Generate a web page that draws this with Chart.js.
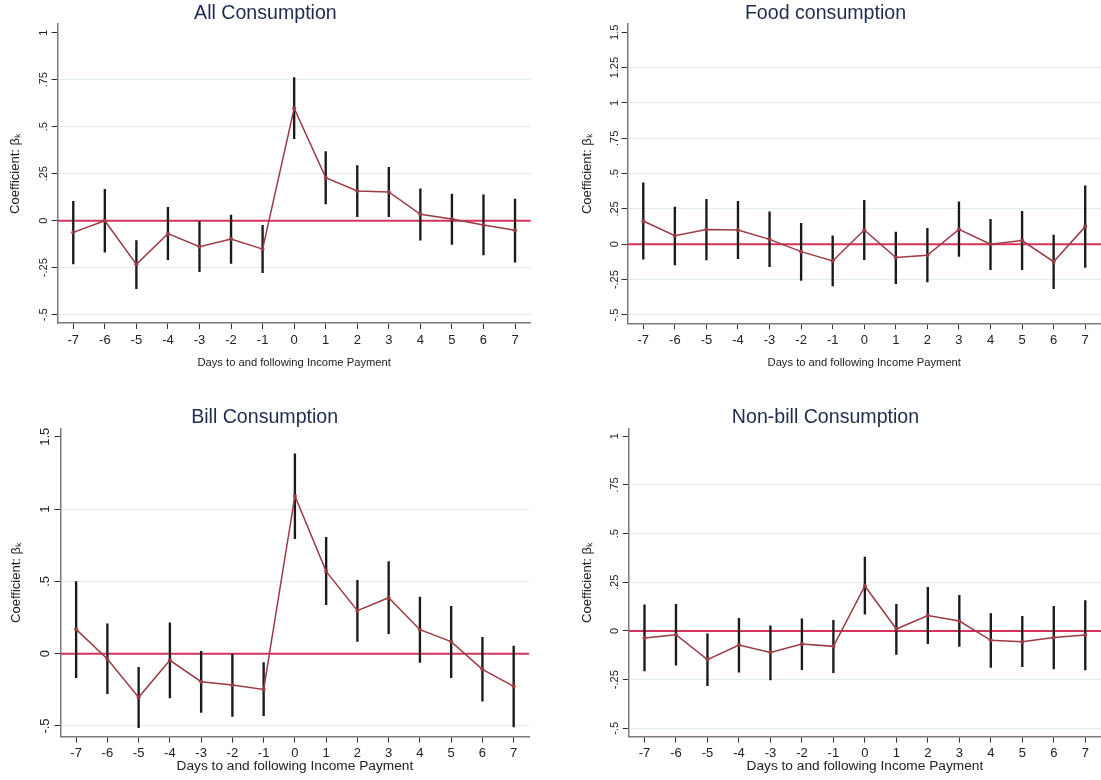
<!DOCTYPE html>
<html><head><meta charset="utf-8">
<script src="https://cdn.jsdelivr.net/npm/chart.js@4"></script>
<style>
html,body{margin:0;padding:0;background:#fff;width:1101px;height:780px;overflow:hidden;position:relative}
canvas{position:absolute}
</style></head>
<body>
<canvas id="c1"></canvas><canvas id="c2"></canvas><canvas id="c3"></canvas><canvas id="c4"></canvas>
<script>
// ---- data ----
const days = [-7,-6,-5,-4,-3,-2,-1,0,1,2,3,4,5,6,7];

const allCoef = [-0.062,0.000,-0.232,-0.069,-0.138,-0.097,-0.151,0.598,0.229,0.158,0.153,0.034,0.009,-0.023,-0.051];
const allLo   = [-0.230,-0.168,-0.362,-0.207,-0.271,-0.227,-0.277,0.436,0.089,0.021,0.021,-0.104,-0.126,-0.182,-0.221];
const allHi   = [0.103,0.167,-0.106,0.071,-0.005,0.030,-0.025,0.761,0.367,0.293,0.284,0.170,0.142,0.138,0.115];

const foodCoef = [0.165,0.061,0.104,0.101,0.035,-0.052,-0.118,0.101,-0.094,-0.078,0.106,0.000,0.026,-0.123,0.125];
const foodLo   = [-0.106,-0.146,-0.111,-0.101,-0.158,-0.255,-0.295,-0.108,-0.278,-0.267,-0.085,-0.179,-0.179,-0.314,-0.163];
const foodHi   = [0.434,0.264,0.318,0.304,0.229,0.149,0.059,0.311,0.087,0.113,0.300,0.177,0.233,0.066,0.413];

const billCoef = [0.168,-0.037,-0.302,-0.046,-0.194,-0.217,-0.247,1.090,0.569,0.297,0.387,0.166,0.083,-0.108,-0.226];
const billLo   = [-0.166,-0.276,-0.512,-0.306,-0.406,-0.433,-0.429,0.795,0.339,0.085,0.138,-0.060,-0.166,-0.329,-0.507];
const billHi   = [0.498,0.207,-0.094,0.214,0.016,0.000,-0.062,1.382,0.804,0.507,0.636,0.392,0.327,0.113,0.053];

const nonCoef = [-0.036,-0.019,-0.147,-0.072,-0.111,-0.067,-0.079,0.231,0.010,0.079,0.051,-0.048,-0.055,-0.033,-0.021];
const nonLo   = [-0.205,-0.176,-0.281,-0.211,-0.252,-0.199,-0.214,0.086,-0.120,-0.065,-0.079,-0.187,-0.183,-0.195,-0.200];
const nonHi   = [0.134,0.137,-0.014,0.065,0.027,0.062,0.055,0.380,0.137,0.224,0.183,0.089,0.075,0.127,0.156];

const yTicksAll  = [-0.5,-0.25,0,0.25,0.5,0.75,1];
const yTicksFood = [-0.5,-0.25,0,0.25,0.5,0.75,1,1.25,1.5];
const yTicksBill = [-0.5,0,0.5,1,1.5];
const yTicksNon  = [-0.5,-0.25,0,0.25,0.5,0.75,1];

const xTitle = 'Days to and following Income Payment';
const yTitle = 'Coefficient: \u03B2\u2096';

// ---- drawing ----
const FF = "'Liberation Sans', Arial, Helvetica, sans-serif";

function fmt(v){
  if (Math.abs(v) < 1e-9) return '0';
  const s = String(+v.toFixed(2));
  return s.replace(/^(-?)0\./, '$1.');
}

function makePanel(p){
  const cv = document.getElementById(p.id);
  cv.width = p.w; cv.height = p.h;
  cv.style.left = p.x + 'px'; cv.style.top = p.y + 'px';
  const L = p.L - p.x, R = p.R - p.x, T = p.T - p.y, B = p.B - p.y;
  const topTick = p.yt[p.yt.length - 1];
  new Chart(cv, {
    type: 'line',
    data: { datasets: [
      { type:'line', data:[{x:-7.5,y:0},{x:7.5,y:0}], borderColor:'#d7325b', borderWidth:2,
        pointRadius:0, order:3 },
      { type:'bar', data: days.map((d,i)=>({x:d, y:[p.lo[i], p.hi[i]]})), backgroundColor:'#1a1a1a',
        barThickness:1.7, order:2 },
      { type:'line', data: days.map((d,i)=>({x:d, y:p.coef[i]})), borderColor:'#9a3b44', borderWidth:1.5,
        pointRadius:2, pointBackgroundColor:'#9a3b44', pointBorderWidth:0, order:1 }
    ]},
    options: {
      responsive:false, animation:false, devicePixelRatio:1,
      layout:{ padding:{ left:0, top:0, right:p.w - R, bottom:0 } },
      plugins:{
        legend:{display:false}, tooltip:{enabled:false},
        title:{ display:true, text:p.title, color:'#1f2b4d',
          font:{family:FF, size:19.6, lineHeight:1, weight:'normal'},
          padding:{ top:p.tpt, bottom:T - p.tpt - 19.6 } }
      },
      scales:{
        x:{ type:'linear', min:-7.5, max:7.5, offset:false,
          afterBuildTicks:s=>{ s.ticks = days.map(v=>({value:v})); },
          afterFit:s=>{ s.height = p.h - B; },
          grid:{ drawOnChartArea:false, drawTicks:true, tickLength:6, tickColor:'#333', offset:false },
          border:{ color:'#7a7a7a', width:1.5 },
          ticks:{ font:{family:FF, size:13}, color:'#222', padding:p.xtp, maxRotation:0, minRotation:0,
            autoSkip:false, callback:v=>String(v) },
          title:{ display:true, text:xTitle, color:'#222', font:{family:FF, size:p.xtf, lineHeight:1.2},
            padding:{top:0, bottom:p.xtb} }
        },
        y:{ type:'linear', min:p.ymin, max:p.ymax,
          afterBuildTicks:s=>{ s.ticks = p.yt.map(v=>({value:v})); },
          afterFit:s=>{ s.width = L; },
          grid:{ color:c=>(c.tick && Math.abs(c.tick.value - topTick) < 1e-9) ? 'rgba(0,0,0,0)' : '#e2ebee',
            tickColor:'#333', tickLength:6, lineWidth:1 },
          border:{ color:'#7a7a7a', width:1.5 },
          ticks:{ font:{family:FF, size:p.ytf}, color:'#222', minRotation:90, maxRotation:90,
            crossAlign:'center', padding:p.ytp, autoSkip:false, callback:v=>fmt(v) },
          title:{ display:true, text:yTitle, color:'#222', font:{family:FF, size:13, lineHeight:1.2},
            padding:{top:p.ytt, bottom:0} }
        }
      }
    }
  });
}

makePanel({ id:'c1', title:'All Consumption', x:0, y:0, w:588, h:380,
  L:57.5, R:530.8, T:24, B:323, ymin:-0.544, ymax:1.046, yt:yTicksAll,
  coef:allCoef, lo:allLo, hi:allHi, tpt:3.8, xtp:3.9, xtf:11.2, xtb:10, ytf:11, ytp:-1.75, ytt:8 });

makePanel({ id:'c2', title:'Food consumption', x:550, y:0, w:629, h:380,
  L:627.5, R:1101, T:24, B:323.3, ymin:-0.559, ymax:1.5586, yt:yTicksFood,
  coef:foodCoef, lo:foodLo, hi:foodHi, tpt:3.8, xtp:3.6, xtf:11.2, xtb:10, ytf:11, ytp:-3.95, ytt:29.7 });

makePanel({ id:'c3', title:'Bill Consumption', x:0, y:395, w:590, h:385,
  L:60.5, R:529.3, T:428.3, B:736.7, ymin:-0.574, ymax:1.558, yt:yTicksBill,
  coef:billCoef, lo:billLo, hi:billHi, tpt:12.3, xtp:2.8, xtf:13.7, xtb:5.5, ytf:13, ytp:0, ytt:8.2 });

makePanel({ id:'c4', title:'Non-bill Consumption', x:550, y:395, w:630, h:385,
  L:628.75, R:1101, T:428.3, B:736.7, ymin:-0.543, ymax:1.041, yt:yTicksNon,
  coef:nonCoef, lo:nonLo, hi:nonHi, tpt:12.3, xtp:2.8, xtf:13.7, xtb:5.5, ytf:11, ytp:-1.5, ytt:29.7 });
</script>
</body></html>
